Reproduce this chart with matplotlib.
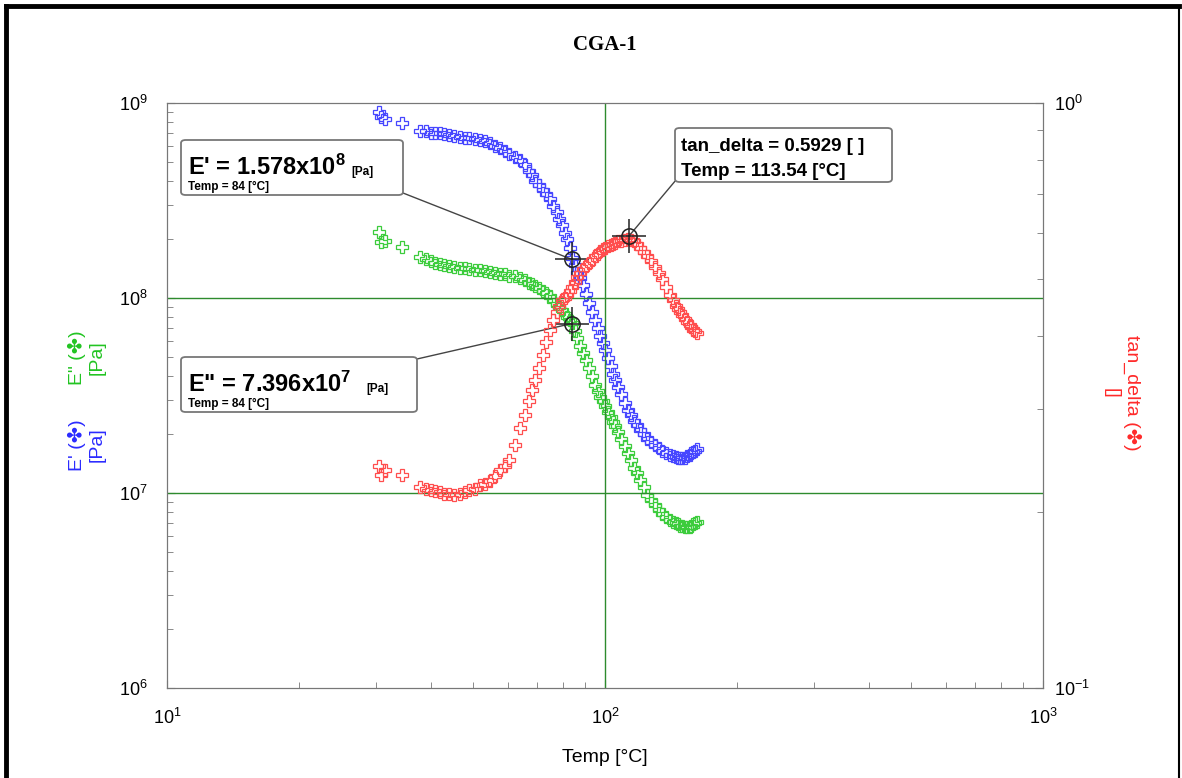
import matplotlib.pyplot as plt
from matplotlib.lines import Line2D
from matplotlib.patches import FancyBboxPatch
from matplotlib.ticker import LogLocator, NullFormatter

plt.rcParams['font.family'] = ['Liberation Sans', 'DejaVu Sans']
plt.rcParams['mathtext.default'] = 'regular'
plt.rcParams['axes.unicode_minus'] = False

# DMA temperature sweep, sample CGA-1
temp = [30.5, 30.8, 31.5, 34.4, 37.9, 39, 40, 41, 42, 43,
        44, 45.3, 46.6, 47.8, 49, 50.4, 51.8, 53.1, 54.5, 56,
        57.6, 59, 60.5, 62.2, 64, 65.5, 67, 68, 69.2, 70.6,
        72, 73.4, 74.9, 76.2, 77.5, 78.6, 79.8, 81, 82, 83,
        84, 85.2, 86.5, 87.7, 89, 90.5, 92, 93.5, 95, 96.2,
        97.5, 98.7, 100, 101.5, 103, 104.2, 105.5, 107.2, 109, 111,
        113, 114.7, 116.5, 118.2, 120, 122.5, 125, 127.5, 130, 132.5,
        135, 137.8, 140.7, 143, 145, 146.5, 148, 150, 152, 154,
        156, 157.5, 159, 160.5, 162]
e_storage = [9.0e8, 8.5e8, 8.3e8, 7.9e8, 7.2e8, 7.15e8, 7.05e8, 7.0e8, 7.0e8, 6.9e8,
             6.85e8, 6.8e8, 6.7e8, 6.65e8, 6.6e8, 6.5e8, 6.45e8, 6.35e8, 6.2e8, 6.05e8,
             5.9e8, 5.7e8, 5.5e8, 5.3e8, 5.1e8, 4.8e8, 4.5e8, 4.25e8, 4.0e8, 3.8e8,
             3.6e8, 3.4e8, 3.2e8, 2.95e8, 2.75e8, 2.55e8, 2.37e8, 2.15e8, 2.0e8, 1.8e8,
             1.6e8, 1.47e8, 1.35e8, 1.26e8, 1.17e8, 1.05e8, 9.4e7, 8.5e7, 7.7e7, 7.0e7,
             6.4e7, 5.9e7, 5.4e7, 4.9e7, 4.5e7, 4.1e7, 3.8e7, 3.5e7, 3.2e7, 2.9e7,
             2.67e7, 2.5e7, 2.35e7, 2.22e7, 2.1e7, 2.0e7, 1.9e7, 1.83e7, 1.76e7, 1.7e7,
             1.65e7, 1.61e7, 1.57e7, 1.55e7, 1.53e7, 1.52e7, 1.51e7, 1.51e7, 1.52e7, 1.54e7,
             1.57e7, 1.6e7, 1.62e7, 1.65e7, 1.68e7]
e_loss = [2.18e8, 1.94e8, 1.97e8, 1.83e8, 1.62e8, 1.58e8, 1.55e8, 1.52e8, 1.49e8, 1.47e8,
          1.46e8, 1.45e8, 1.43e8, 1.42e8, 1.41e8, 1.40e8, 1.39e8, 1.38e8, 1.36e8, 1.35e8,
          1.33e8, 1.32e8, 1.30e8, 1.29e8, 1.27e8, 1.24e8, 1.2e8, 1.18e8, 1.15e8, 1.12e8,
          1.09e8, 1.06e8, 1.02e8, 9.7e7, 9.3e7, 9.0e7, 8.7e7, 8.3e7, 8.0e7, 7.7e7,
          7.4e7, 6.8e7, 6.2e7, 5.7e7, 5.2e7, 4.8e7, 4.4e7, 4.0e7, 3.6e7, 3.35e7,
          3.1e7, 2.95e7, 2.8e7, 2.6e7, 2.45e7, 2.3e7, 2.2e7, 2.05e7, 1.9e7, 1.75e7,
          1.6e7, 1.47e7, 1.35e7, 1.26e7, 1.17e7, 1.07e7, 9.8e6, 9.2e6, 8.7e6, 8.2e6,
          7.8e6, 7.5e6, 7.3e6, 7.1e6, 7.0e6, 6.9e6, 6.8e6, 6.75e6, 6.7e6, 6.7e6,
          6.7e6, 6.8e6, 6.9e6, 7.0e6, 7.1e6]
tan_delta = [0.240, 0.231, 0.236, 0.231, 0.221, 0.219, 0.218, 0.217, 0.216, 0.215,
             0.215, 0.214, 0.215, 0.216, 0.218, 0.219, 0.222, 0.223, 0.226, 0.230,
             0.236, 0.240, 0.245, 0.260, 0.278, 0.293, 0.31, 0.323, 0.336, 0.353,
             0.371, 0.39, 0.409, 0.425, 0.44, 0.45, 0.46, 0.465, 0.47, 0.478,
             0.485, 0.495, 0.505, 0.513, 0.52, 0.526, 0.532, 0.54, 0.547, 0.553,
             0.558, 0.562, 0.565, 0.569, 0.572, 0.575, 0.577, 0.580, 0.582, 0.584,
             0.585, 0.583, 0.58, 0.573, 0.565, 0.557, 0.548, 0.537, 0.525, 0.512,
             0.50, 0.485, 0.47, 0.46, 0.45, 0.445, 0.44, 0.434, 0.428, 0.423,
             0.418, 0.414, 0.41, 0.407, 0.404]

# cursor readouts
cur_temp = 84
cur_e_storage = 1.578e8
cur_e_loss = 7.396e7
peak_temp = 113.54
peak_tan = 0.5929

BLUE = '#4646ff'
GREEN = '#3ccc3c'
RED = '#ff4d4d'
GRID = '#2e8b2e'

W, H = 1182, 778
fig = plt.figure(figsize=(W / 100, H / 100), dpi=100)


def fx(px):
    return px / W


def fy(py):
    return 1 - py / H


ax = fig.add_axes([fx(167), fy(688), fx(1043) - fx(167), fy(103) - fy(688)])
ax2 = ax.twinx()

ax.set_xscale('log')
ax.set_yscale('log')
ax2.set_yscale('log')
ax.set_xlim(10, 1000)
ax.set_ylim(1e6, 1e9)
ax2.set_ylim(0.1, 1)

mk = dict(marker='P', linestyle='none', markersize=9, markerfacecolor='none',
          markeredgewidth=0.9)
ax.plot(temp, e_storage, markeredgecolor=BLUE, **mk)
ax.plot(temp, e_loss, markeredgecolor=GREEN, **mk)
ax2.plot(temp, tan_delta, markeredgecolor=RED, **mk)

# only decade grid lines
ax.axhline(1e8, color=GRID, lw=1)
ax.axhline(1e7, color=GRID, lw=1)
ax.axvline(100, color=GRID, lw=1)

for a in (ax, ax2):
    for s in a.spines.values():
        s.set_color('#777777')
    a.tick_params(which='both', direction='in', colors='#777777', labelcolor='black',
                  labelsize=13)
    a.tick_params(which='major', length=6)
    a.tick_params(which='minor', length=4)
    a.yaxis.set_minor_locator(LogLocator(base=10, subs=range(2, 10), numticks=20))
    a.yaxis.set_minor_formatter(NullFormatter())
ax.tick_params(axis='x', which='major', pad=14)
ax.tick_params(axis='y', pad=14)
ax2.tick_params(axis='y', pad=8)
ax.xaxis.set_minor_locator(LogLocator(base=10, subs=range(2, 10), numticks=20))
ax.xaxis.set_minor_formatter(NullFormatter())

# cursor markers
for a, x, y in ((ax, cur_temp, cur_e_storage), (ax, cur_temp, cur_e_loss),
                (ax2, peak_temp, peak_tan)):
    a.plot(x, y, marker='o', markersize=11, markerfacecolor='none',
           markeredgecolor='#222222', markeredgewidth=1.1, zorder=5)
    a.plot(x, y, marker='+', markersize=24, markeredgecolor='#222222',
           markeredgewidth=1.1, zorder=5)

# leader lines from readout boxes
ax.annotate('', xy=(cur_temp, cur_e_storage), xytext=(fx(403), fy(193)),
            textcoords='figure fraction',
            arrowprops=dict(arrowstyle='-', color='#444444', lw=1, shrinkA=0, shrinkB=0))
ax.annotate('', xy=(cur_temp, cur_e_loss), xytext=(fx(417), fy(359)),
            textcoords='figure fraction',
            arrowprops=dict(arrowstyle='-', color='#444444', lw=1, shrinkA=0, shrinkB=0))
ax2.annotate('', xy=(peak_temp, peak_tan), xytext=(fx(676), fy(180)),
             textcoords='figure fraction',
             arrowprops=dict(arrowstyle='-', color='#444444', lw=1, shrinkA=0, shrinkB=0))


def readout_box(x0, y0, x1, y1):
    box = FancyBboxPatch((fx(x0), fy(y1)), fx(x1) - fx(x0), fy(y0) - fy(y1),
                         boxstyle='round,pad=0,rounding_size=0.004',
                         transform=fig.transFigure, facecolor='white',
                         edgecolor='#777777', lw=1.3, zorder=10)
    fig.patches.append(box)


readout_box(181, 140, 403, 195)
fig.text(fx(188), fy(175), "E' = %.3fx10$^{8}$" % (cur_e_storage / 1e8),
         fontsize=17, fontweight='bold', zorder=11)
fig.text(fx(351), fy(175), '[Pa]', fontsize=8.5, fontweight='bold', zorder=11)
fig.text(fx(188), fy(190), 'Temp = %d [°C]' % cur_temp, fontsize=8.5, fontweight='bold',
         zorder=11)

readout_box(181, 357, 417, 412)
fig.text(fx(188), fy(392), 'E" = %.3fx10$^{7}$' % (cur_e_loss / 1e7),
         fontsize=17, fontweight='bold', zorder=11)
fig.text(fx(366), fy(392), '[Pa]', fontsize=8.5, fontweight='bold', zorder=11)
fig.text(fx(188), fy(407), 'Temp = %d [°C]' % cur_temp, fontsize=8.5, fontweight='bold',
         zorder=11)

readout_box(675, 128, 892, 182)
fig.text(fx(681), fy(151), 'tan_delta = %.4f [ ]' % peak_tan, fontsize=13.5,
         fontweight='bold', zorder=11)
fig.text(fx(681), fy(176), 'Temp = %.2f [°C]' % peak_temp, fontsize=13.5,
         fontweight='bold', zorder=11)

# axis labels
sym = '\u2724'
lab_font = ['Liberation Sans', 'DejaVu Sans']
fig.text(fx(87), fy(445), "E' (%s)\n[Pa]" % sym, rotation=90, color='#2b2bff',
         fontsize=14, ha='center', va='center', multialignment='center', family=lab_font)
fig.text(fx(87), fy(358), 'E" (%s)\n[Pa]' % sym, rotation=90, color='#22c422',
         fontsize=14, ha='center', va='center', multialignment='center', family=lab_font)
fig.text(fx(1122), fy(393), 'tan_delta (%s)\n[]' % sym, rotation=270, color='#ff2a2a',
         fontsize=14, ha='center', va='center', multialignment='center', family=lab_font)
fig.text(fx(605), fy(757), 'Temp [°C]', fontsize=14, ha='center', va='center')
fig.text(fx(605), fy(45), 'CGA-1', fontsize=15, fontweight='bold', ha='center',
         va='center', family=['Liberation Serif', 'DejaVu Serif'])

# page frame
for xs, ys, lw in (([fx(6), fx(6)], [0, fy(6)], 3.5),
                   ([fx(6), fx(1179)], [fy(6), fy(6)], 3.5),
                   ([fx(1179), fx(1179)], [0, fy(6)], 1.5)):
    fig.add_artist(Line2D(xs, ys, color='black', lw=lw, transform=fig.transFigure))

fig.savefig('out.png', dpi=100)
